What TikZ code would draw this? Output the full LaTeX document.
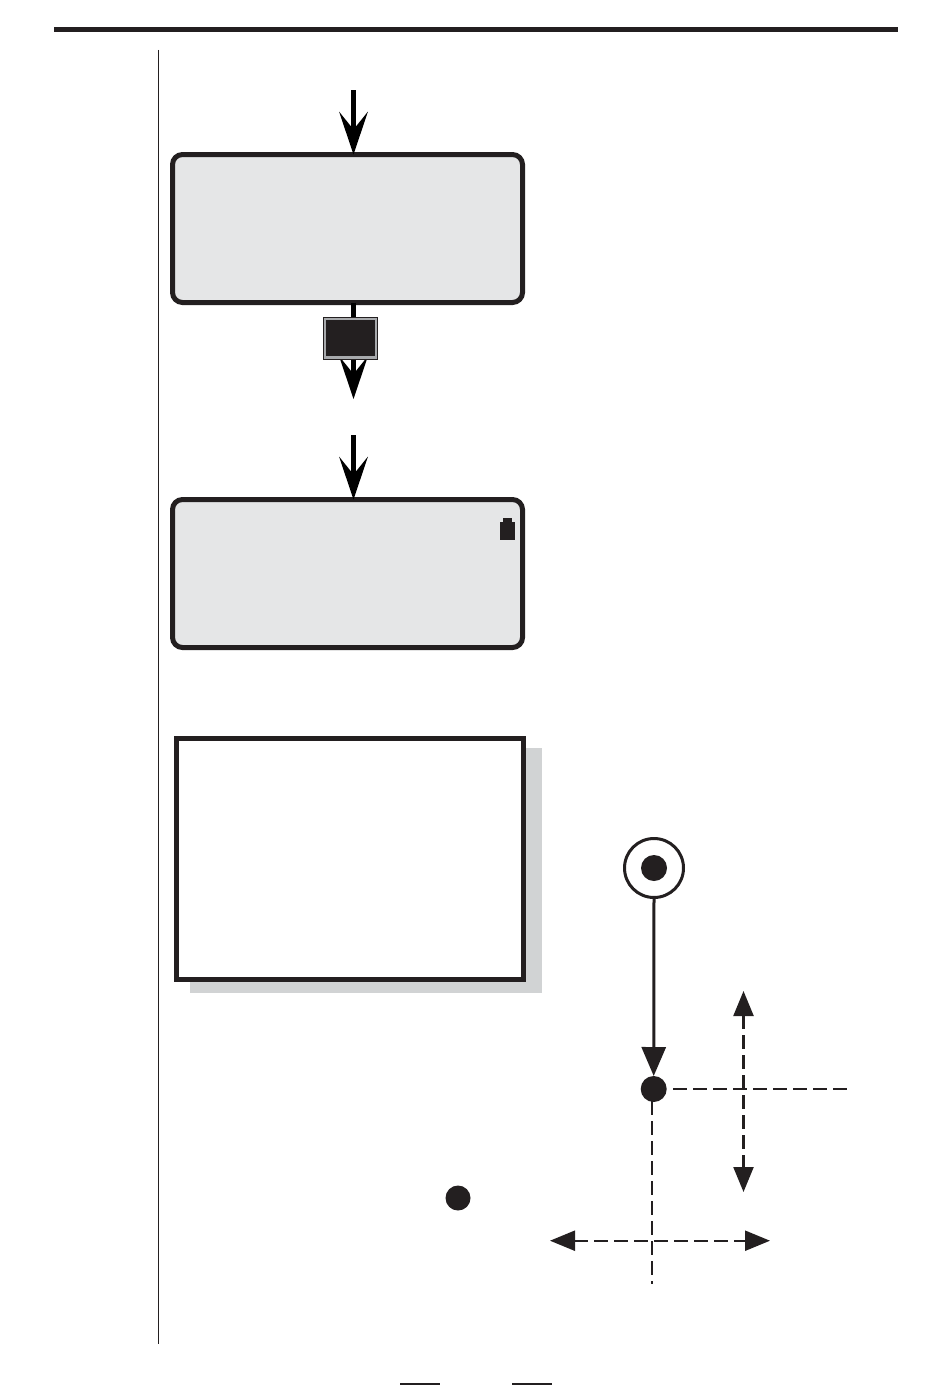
\documentclass[tikz,border=0pt]{standalone}
\usetikzlibrary{arrows.meta}
\definecolor{ink}{HTML}{231F20}
\definecolor{lcd}{HTML}{E5E6E7}
\definecolor{shade}{HTML}{D1D3D4}
\definecolor{band}{HTML}{A7A9AC}
\tikzset{
  lcdbox/.style={draw=ink,fill=lcd,line width=5pt,rounded corners=10pt,minimum width=350pt,minimum height=148pt,inner sep=0pt,outer sep=0pt},
  notebox/.style={draw=ink,fill=white,line width=5pt,minimum width=347pt,minimum height=241pt,inner sep=0pt,outer sep=0pt},
  shadowbox/.style={fill=shade,minimum width=352pt,minimum height=245pt,inner sep=0pt,outer sep=0pt},
  flow/.style={draw=black,line width=5pt,-{Stealth[length=43pt,width=29pt,inset=18pt,line width=0pt]}},
  dotnode/.style={circle,fill=ink,inner sep=0pt,outer sep=0pt,minimum size=26pt},
  ringnode/.style={circle,draw=ink,fill=white,line width=3pt,inner sep=0pt,outer sep=0pt,minimum size=59pt},
  solidarrow/.style={draw=ink,line width=3pt,-{Triangle[length=29pt,width=24pt]}},
  dashline/.style={draw=ink,line width=2.3pt,dash pattern=on 13.5pt off 6.5pt},
  dasharrow/.style={dashline,{Triangle[length=25pt,width=20pt]}-{Triangle[length=25pt,width=20pt]}},
  rule/.style={draw=ink,line width=1.2pt},
}
\begin{document}
\begin{tikzpicture}[x=1pt,y=-1pt]
\useasboundingbox (0,0) rectangle (950,1389);
% page furniture
\coordinate (barL) at (54,29.5); \coordinate (barR) at (898,29.5);
\draw[draw=ink,line width=5pt] (barL) -- (barR);
\coordinate (sideT) at (158.3,50); \coordinate (sideB) at (158.3,1344);
\draw[rule] (sideT) -- (sideB);
\coordinate (footAl) at (400,1384); \coordinate (footAr) at (440,1384);
\coordinate (footBl) at (512,1384); \coordinate (footBr) at (552,1384);
\draw[rule] (footAl) -- (footAr);
\draw[rule] (footBl) -- (footBr);
% upper screens
\node[lcdbox] (box1) at (347.5,228.5) {};
\node[lcdbox] (box2) at (347.5,573.5) {};
% arrows
\coordinate (a1s) at (353.5,90);
\draw[flow] (a1s) -- (a1s |- box1.north);
\coordinate (a2e) at (353.5,399);
\draw[flow] (a2e |- box1.south) -- (a2e);
\coordinate (a3s) at (353.5,435);
\draw[flow] (a3s) -- (a3s |- box2.north);
% key
\node[draw=ink,line width=1pt,fill=band,minimum width=54pt,minimum height=42pt,inner sep=0pt,outer sep=0pt] (keyo) at (350.5,338.3) {};
\node[fill=ink,minimum width=48.5pt,minimum height=35.5pt,inner sep=0pt,outer sep=0pt] (keyi) at (350.5,338.2) {};
% battery icon
\node[fill=ink,minimum width=15pt,minimum height=18pt,inner sep=0pt,outer sep=0pt] (batt) at (507.5,531) {};
\node[fill=ink,minimum width=9pt,minimum height=5pt,inner sep=0pt,outer sep=0pt] (battcap) at (507.5,520.5) {};
% note panel
\node[shadowbox] (shadow) at (366,870.5) {};
\node[notebox] (note) at (350,859) {};
% lone dot
\node[dotnode,minimum size=25pt] (dotA) at (458,1198) {};
% target diagram
\node[ringnode] (ring) at (654,868) {};
\node[dotnode] (ringdot) at (654,868) {};
\node[dotnode] (dotB) at (653.7,1089) {};
\draw[solidarrow] (ring.south) -- (dotB.north);
\coordinate (hS) at (673,1089); \coordinate (hE) at (846.5,1089);
\draw[dashline] (hS) -- (hE);
\coordinate (vaT) at (743.5,991); \coordinate (vaB) at (743.5,1192);
\draw[dasharrow] (vaT) -- (vaB);
\coordinate (vS) at (651.7,1101); \coordinate (vE) at (651.7,1284);
\draw[dashline] (vS) -- (vE);
\coordinate (haL) at (550,1240.7); \coordinate (haR) at (770,1240.7);
\draw[dasharrow] (haL) -- (haR);
\end{tikzpicture}
\end{document}
